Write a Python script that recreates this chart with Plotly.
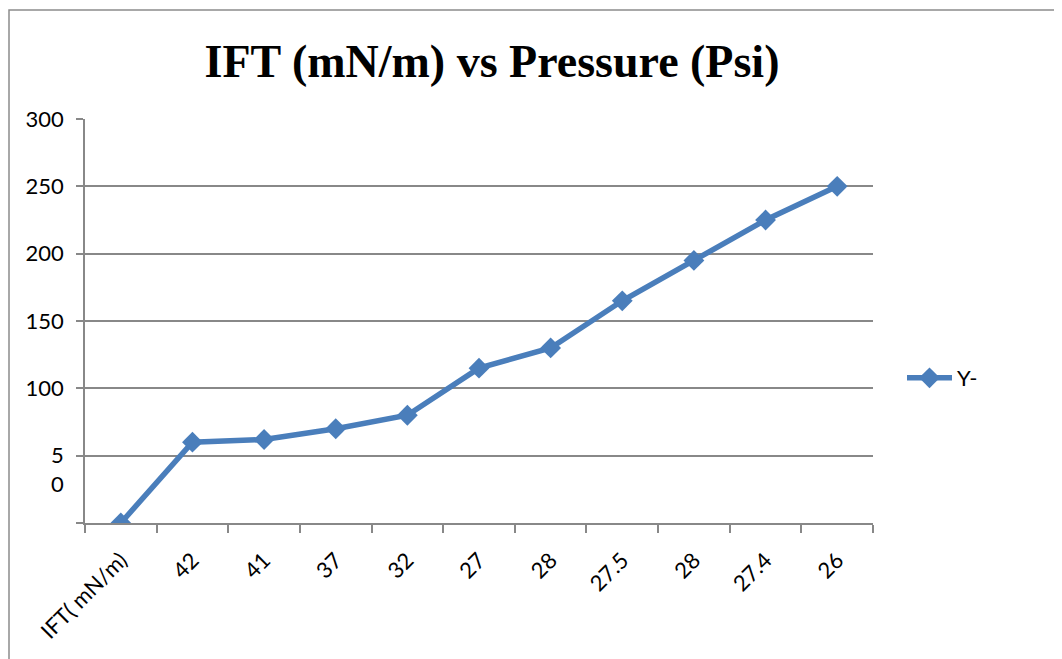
import plotly.graph_objects as go

categories = ["IFT( mN/m)", "42", "41", "37", "32", "27", "28", "27.5", "28", "27.4", "26"]
values = [0, 60, 62, 70, 80, 115, 130, 165, 195, 225, 250]
y_tickvals = [0, 50, 100, 150, 200, 250, 300]
y_ticktext = ["", "\u00a0<br>5<br>0", "100", "150", "200", "250", "300"]
series_name = "Y-"
title_text = "IFT (mN/m) vs Pressure (Psi)"

W, H = 1062, 659
OFF = 8  # page body margin
# desired on-screen plot box: x 85..873, y 119..523
L, T = 85 - OFF, 119 - OFF
R = W - (873 - OFF)
B = H - (523 - OFF)
pw, ph = W - L - R, H - T - B

def px_x(sx):
    return (sx - OFF - L) / pw

def px_y(sy):
    return (T + ph - (sy - OFF)) / ph

xs = list(range(len(categories)))
blue = "#4A7EBB"
grid = "#888888"
tickfont = dict(family="Lato, Carlito, sans-serif", size=22, color="#000000")

fig = go.Figure()
fig.add_trace(go.Scatter(
    x=xs, y=values, mode="lines+markers", name=series_name,
    line=dict(color=blue, width=5.5),
    marker=dict(symbol="diamond", size=16, color=blue),
))

fig.update_layout(
    width=W, height=H,
    margin=dict(l=L, r=R, t=T, b=B, pad=0),
    paper_bgcolor="white", plot_bgcolor="white",
    title=dict(text="<b>" + title_text + "</b>",
               font=dict(family="Liberation Serif, Times New Roman, serif", size=46, color="#000000"),
               x=(492 - OFF) / W, xanchor="center", y=1 - (61 - OFF) / H, yanchor="middle"),
    showlegend=True,
    legend=dict(x=px_x(902), y=px_y(378), xanchor="left", yanchor="middle",
                font=tickfont, bgcolor="rgba(0,0,0,0)", itemwidth=45),
    xaxis=dict(
        range=[-0.5, len(categories) - 0.5],
        tickmode="array", tickvals=xs, ticktext=categories,
        tickangle=-45, ticks="", showgrid=False, zeroline=False,
        showline=True, linecolor=grid, linewidth=1.5,
        tickfont=tickfont, ticklabelstandoff=14,
        minor=dict(tickmode="array", tickvals=[i - 0.5 for i in range(len(categories) + 1)],
                   ticks="outside", ticklen=8, tickcolor=grid, tickwidth=1.5, showgrid=False),
    ),
    yaxis=dict(
        range=[0, 300], tickmode="array", tickvals=y_tickvals, ticktext=y_ticktext,
        ticks="outside", ticklen=7, tickcolor=grid, tickwidth=1.5,
        showgrid=True, gridcolor=grid, gridwidth=1.5, zeroline=False,
        showline=True, linecolor=grid, linewidth=1.5,
        tickfont=tickfont, ticklabelstandoff=8,
    ),
)

# outer chart border
fig.add_shape(type="rect", xref="paper", yref="paper",
              x0=px_x(9), x1=px_x(W + 40),
              y0=px_y(H + 40), y1=px_y(10),
              line=dict(color="#8C8C8C", width=1.5), fillcolor="rgba(0,0,0,0)", layer="below")

fig.write_html("out.html")
